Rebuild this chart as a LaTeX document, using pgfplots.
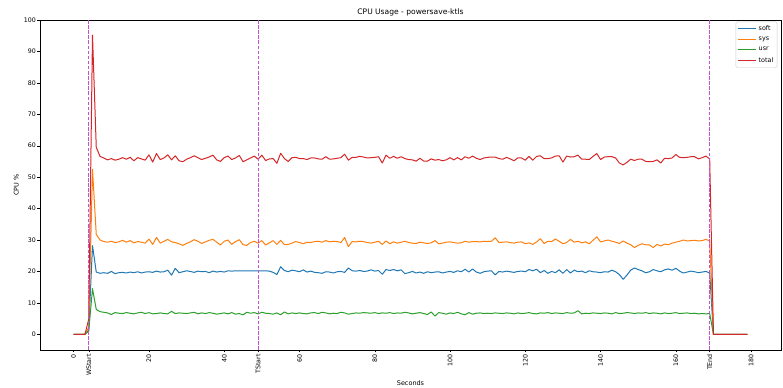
\documentclass[border=0pt]{standalone}
\usepackage{fontspec}
\setmainfont{DejaVu Sans}
\usepackage{pgfplots}
\usepackage{pgfplotstable}
\pgfplotsset{compat=1.18}
\definecolor{csoft}{HTML}{1F77B4}
\definecolor{csys}{HTML}{FF7F0E}
\definecolor{cusr}{HTML}{2CA02C}
\definecolor{ctotal}{HTML}{D62728}
\definecolor{cvline}{RGB}{196,80,210}
\pgfplotstableread{
t soft sys usr total
0 0 0 0 0
1 0 0 0 0
2 0 0 0 0
3 0 0 0 0
4 1.5 2.3 1.0 4.8
5 28.2 52.5 14.5 95.2
6 19.8 31.8 7.9 59.5
7 19.4 30.0 7.2 56.6
8 19.6 29.5 7.0 56.1
9 19.4 29.3 6.8 55.5
10 20.0 29.6 6.3 55.9
11 19.3 29.2 6.9 55.4
12 19.6 29.4 6.7 55.7
13 19.7 29.9 6.6 56.2
14 19.5 29.3 6.9 55.7
15 19.8 29.8 6.7 56.3
16 19.6 29.1 6.5 55.2
17 19.9 29.5 6.8 56.2
18 19.5 29.3 7.0 55.8
19 19.8 29.0 6.6 55.4
20 19.9 30.3 6.9 57.1
21 19.7 28.6 6.5 54.8
22 20.1 30.8 6.6 57.5
23 19.8 29.0 6.8 55.6
24 19.9 29.6 6.6 56.1
25 20.4 30.2 6.5 57.1
26 18.8 29.4 7.3 55.5
27 21.0 29.2 6.6 56.8
28 19.6 28.8 6.8 55.2
29 19.9 28.3 6.7 54.9
30 20.2 28.9 6.6 55.7
31 20.0 29.4 6.8 56.2
32 19.7 30.1 7.0 56.8
33 20.1 29.6 6.5 56.2
34 19.9 28.9 6.8 55.6
35 20.0 29.4 6.6 56.0
36 19.6 29.9 6.9 56.4
37 20.1 30.2 6.7 57.0
38 19.8 29.3 6.4 55.5
39 20.0 28.4 6.6 55.0
40 19.8 29.6 6.8 56.2
41 20.2 30.0 6.5 56.7
42 20.1 28.6 6.9 55.6
43 20.2 29.5 6.4 56.1
44 20.2 30.1 6.6 56.9
45 20.2 28.5 6.2 54.9
46 20.2 28.3 7.0 55.5
47 20.2 29.2 6.7 56.1
48 20.2 29.6 6.9 56.7
49 20.2 29.0 6.5 55.7
50 20.2 29.8 7.0 57.0
51 20.2 28.4 6.7 55.3
52 20.1 29.1 6.6 55.8
53 19.7 29.8 6.4 55.9
54 19.0 28.6 6.8 54.4
55 21.5 29.9 6.2 57.6
56 20.3 28.5 7.1 55.9
57 19.9 28.6 6.5 55.0
58 20.4 29.0 6.8 56.2
59 20.2 29.5 6.6 56.3
60 19.9 29.2 6.8 55.9
61 20.5 28.8 6.6 55.9
62 19.8 29.3 6.5 55.6
63 20.1 29.2 6.8 56.1
64 19.7 29.5 6.9 56.1
65 19.6 29.6 6.6 55.8
66 19.4 29.3 7.0 55.7
67 19.9 29.8 6.8 56.5
68 19.8 29.4 6.5 55.7
69 19.5 29.6 6.7 55.8
70 19.9 29.5 6.6 56.0
71 20.0 29.2 7.0 56.2
72 19.7 30.8 6.8 57.3
73 21.1 27.9 6.4 55.4
74 20.2 29.5 6.6 56.3
75 20.1 29.4 6.8 56.3
76 20.3 29.6 6.7 56.6
77 20.0 29.5 6.9 56.4
78 20.1 29.2 6.8 56.1
79 20.5 29.0 6.7 56.2
80 20.1 29.3 6.9 56.3
81 20.3 29.6 6.6 56.5
82 19.1 28.6 6.8 54.5
83 20.6 29.7 6.7 57.0
84 20.3 28.8 6.9 56.0
85 20.6 29.4 6.6 56.6
86 20.2 29.0 6.8 56.0
87 20.5 29.3 6.7 56.5
88 19.3 29.6 7.0 55.9
89 19.6 29.2 6.8 55.6
90 20.0 29.0 6.5 55.5
91 19.5 28.9 6.7 55.1
92 19.8 29.3 6.9 56.0
93 19.4 29.1 6.6 55.1
94 19.9 28.9 6.3 55.1
95 19.6 29.1 7.1 55.8
96 19.8 29.8 5.8 55.4
97 19.9 28.8 6.9 55.6
98 19.5 29.0 6.7 55.2
99 19.8 29.3 6.4 55.5
100 20.0 29.4 6.8 56.2
101 19.7 29.2 6.6 55.5
102 20.2 29.0 7.0 56.2
103 19.9 29.1 6.5 55.5
104 20.7 29.6 6.2 56.5
105 19.8 29.3 6.9 56.0
106 20.8 29.5 6.4 56.7
107 19.8 29.5 6.7 56.0
108 19.4 29.4 6.8 55.6
109 19.9 29.6 6.6 56.1
110 20.1 29.5 6.7 56.3
111 20.2 29.6 6.6 56.4
112 18.9 30.7 6.8 56.4
113 20.0 29.2 6.7 55.9
114 19.8 29.3 6.6 55.7
115 20.1 29.4 6.8 56.3
116 19.9 29.2 6.7 55.8
117 19.7 29.0 6.5 55.2
118 20.0 29.3 6.8 56.1
119 20.1 29.4 6.6 56.1
120 19.9 28.8 6.7 55.4
121 20.6 29.1 6.9 56.6
122 20.2 28.6 6.6 55.4
123 20.7 29.4 6.5 56.6
124 19.6 30.4 6.8 56.8
125 20.3 28.9 6.7 55.9
126 19.4 29.6 6.9 55.9
127 20.0 29.5 6.6 56.1
128 19.6 30.3 6.8 56.7
129 20.5 29.6 6.7 56.8
130 19.4 28.8 6.6 54.8
131 20.6 29.2 6.9 56.7
132 19.5 30.2 6.7 56.4
133 20.4 29.3 6.8 56.5
134 19.9 29.6 7.5 57.0
135 20.1 29.1 6.5 55.7
136 19.6 29.4 6.7 55.7
137 20.2 28.8 6.6 55.6
138 19.9 29.9 6.8 56.6
139 19.8 31.0 6.7 57.5
140 19.6 29.4 6.6 55.6
141 19.9 29.7 6.8 56.4
142 19.8 30.0 6.7 56.5
143 20.4 29.6 6.5 56.5
144 19.9 29.3 6.9 56.1
145 19.0 28.9 6.6 54.5
146 17.5 29.7 6.7 53.9
147 18.8 29.0 6.9 54.7
148 20.4 28.5 6.8 55.7
149 21.1 27.6 6.6 55.3
150 20.6 28.3 6.8 55.7
151 20.2 28.8 6.7 55.7
152 19.6 28.5 6.9 55.0
153 19.9 28.4 6.6 54.9
154 20.6 27.6 6.8 55.0
155 20.2 28.6 6.7 55.5
156 19.9 28.1 6.5 54.5
157 20.5 28.7 6.8 56.0
158 20.8 28.5 6.6 55.9
159 20.4 29.0 6.7 56.1
160 21.0 29.3 6.9 57.2
161 20.1 29.6 6.6 56.3
162 19.5 30.0 6.7 56.2
163 19.8 29.7 6.8 56.3
164 20.1 29.8 6.6 56.5
165 19.9 29.9 6.7 56.5
166 19.6 29.7 6.5 55.8
167 19.8 29.8 6.6 56.2
168 20.0 30.2 6.5 56.7
169 19.5 29.7 6.6 55.8
170 0 0 0 0
171 0 0 0 0
172 0 0 0 0
173 0 0 0 0
174 0 0 0 0
175 0 0 0 0
176 0 0 0 0
177 0 0 0 0
178 0 0 0 0
179 0 0 0 0
}\cpudata
\begin{document}
\begin{tikzpicture}
\path[use as bounding box] (0,0) rectangle (783bp,388bp);
\begin{axis}[
  at={(40bp,38bp)}, anchor=south west,
  scale only axis, width=741bp, height=330bp,
  xmin=-8.95, xmax=187.95, ymin=-5, ymax=100,
  xtick={0,20,40,60,80,100,120,140,160,180},
  extra x ticks={4,49,169},
  extra x tick labels={WStart,TStart,TEnd},
  ytick={0,10,20,30,40,50,60,70,80,90,100},
  tick align=outside, xtick pos=lower, ytick pos=left,
  major tick length=2.5bp,
  tick style={black, line width=0.4bp},
  axis line style={black, line width=0.45bp},
  every tick label/.append style={font=\fontsize{6.3}{7}\selectfont},
  /pgf/number format/assume math mode=true,
  xticklabel style={rotate=90, anchor=east, inner sep=1.5bp},
  extra x tick style={tick style={black, line width=0.4bp}},
  yticklabel style={inner sep=1.5bp},
  title={CPU Usage - powersave-ktls},
  title style={font=\fontsize{7.6}{9}\selectfont, yshift=-6bp},
  xlabel={Seconds}, ylabel={CPU \%},
  label style={font=\fontsize{6.5}{7.5}\selectfont},
  xlabel style={at={(axis description cs:0.5,0)}, anchor=center, yshift=-33bp},
  ylabel style={yshift=0bp},
  legend style={at={(0.995,0.995)}, anchor=north east, draw=black!20, rounded corners=1.5bp,
    font=\fontsize{6.4}{7.2}\selectfont, row sep=1.2bp, inner sep=1.8bp},
  legend cell align=left,
  legend image code/.code={\draw[#1] (0bp,0bp) -- (18bp,0bp);},
  every axis plot/.append style={line width=1bp, line join=round},
]
\addplot[csoft] table[x=t, y=soft] {\cpudata};
\addplot[csys] table[x=t, y=sys] {\cpudata};
\addplot[cusr] table[x=t, y=usr] {\cpudata};
\addplot[ctotal] table[x=t, y=total] {\cpudata};
\legend{soft,sys,usr,total}
\addplot[cvline, forget plot, dash pattern=on 3.5bp off 1.6bp, line width=0.9bp] coordinates {(4,-5) (4,100)};
\addplot[cvline, forget plot, dash pattern=on 3.5bp off 1.6bp, line width=0.9bp] coordinates {(49,-5) (49,100)};
\addplot[cvline, forget plot, dash pattern=on 3.5bp off 1.6bp, line width=0.9bp] coordinates {(169,-5) (169,100)};
\end{axis}
\end{tikzpicture}
\end{document}
